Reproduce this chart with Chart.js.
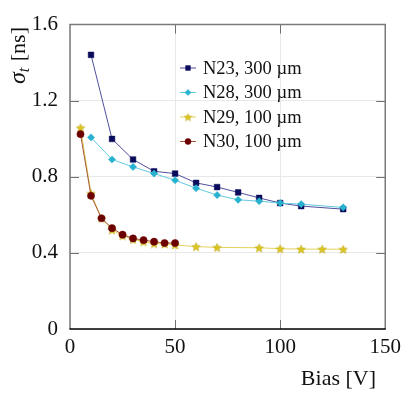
<!DOCTYPE html>
<html>
<head>
<meta charset="utf-8">
<script src="https://cdn.jsdelivr.net/npm/chart.js@4"></script>
<style>
  html, body { margin: 0; padding: 0; background: #fff; }
  #wrap { width: 407px; height: 393px; }
</style>
</head>
<body>
<div id="wrap"><canvas id="chart" width="407" height="393"></canvas></div>
<script>
// values
const biasN23 = [10, 20, 30, 40, 50, 60, 70, 80, 90, 100, 110, 130];
const sigmaN23 = [1.441, 0.999, 0.891, 0.829, 0.817, 0.768, 0.746, 0.718, 0.689, 0.662, 0.646, 0.630];
const biasN28 = [10, 20, 30, 40, 50, 60, 70, 80, 90, 100, 110, 130];
const sigmaN28 = [1.007, 0.891, 0.852, 0.817, 0.782, 0.740, 0.704, 0.679, 0.672, 0.662, 0.656, 0.639];
const biasN29 = [5, 10, 15, 20, 25, 30, 35, 40, 45, 50, 60, 70, 90, 100, 110, 120, 130];
const sigmaN29 = [1.058, 0.713, 0.582, 0.521, 0.491, 0.471, 0.459, 0.449, 0.447, 0.442, 0.433, 0.429, 0.427, 0.422, 0.420, 0.420, 0.419];
const biasN30 = [5, 10, 15, 20, 25, 30, 35, 40, 45, 50];
const sigmaN30 = [1.024, 0.700, 0.582, 0.530, 0.496, 0.476, 0.467, 0.459, 0.452, 0.452];
const seriesLabels = ['N23, 300 µm', 'N28, 300 µm', 'N29, 100 µm', 'N30, 100 µm'];
const xTicks = [0, 50, 100, 150];
const yTicks = [0, 0.4, 0.8, 1.2, 1.6];

const SERIF = '"Liberation Serif", "DejaVu Serif", serif';

// filled five-point star used as a marker
function makeStar(size, fill, stroke) {
  const c = document.createElement('canvas');
  c.width = size; c.height = size;
  const g = c.getContext('2d');
  const m = size / 2;
  g.beginPath();
  for (let i = 0; i < 10; i++) {
    const r = i % 2 === 0 ? m - 0.5 : (m - 0.5) * 0.45;
    const a = -Math.PI / 2 + i * Math.PI / 5;
    g.lineTo(m + r * Math.cos(a), m + 0.5 + r * Math.sin(a));
  }
  g.closePath();
  g.fillStyle = fill;
  g.fill();
  g.strokeStyle = stroke;
  g.lineWidth = 0.5;
  g.stroke();
  return c;
}
const starImg = makeStar(10, '#dcc61e', '#b8a214');
const starLegend = makeStar(9, '#dcc61e', '#b8a214');

function pts(xs, ys) {
  return xs.map((x, i) => ({ x: x, y: ys[i] }));
}

const datasets = [
  {
    label: seriesLabels[0], data: pts(biasN23, sigmaN23),
    borderColor: '#4f4f9c', backgroundColor: '#0b0b5c', pointBorderColor: '#0b0b5c',
    pointStyle: 'rect', pointRadius: 4, order: 3
  },
  {
    label: seriesLabels[1], data: pts(biasN28, sigmaN28),
    borderColor: '#62c9e0', backgroundColor: '#27b2d0', pointBorderColor: '#27b2d0',
    pointStyle: 'rectRot', pointRadius: 3.6, order: 2
  },
  {
    label: seriesLabels[2], data: pts(biasN29, sigmaN29),
    borderColor: '#e3d25a', backgroundColor: '#dcc61e', pointBorderColor: '#dcc61e',
    pointStyle: starImg, pointRadius: 5, order: 1
  },
  {
    label: seriesLabels[3], data: pts(biasN30, sigmaN30),
    borderColor: '#a4563a', backgroundColor: '#6c0000', pointBorderColor: '#6c0000',
    pointStyle: 'circle', pointRadius: 3.6, order: 0
  }
];
datasets.forEach(d => {
  d.showLine = true;
  d.borderWidth = 1;
  d.pointBorderWidth = 0.5;
  d.tension = 0;
});

// frame, inner tick marks, axis titles and legend (pgfplots look)
const decorPlugin = {
  id: 'decor',
  afterDatasetsDraw(chart) {
    const ctx = chart.ctx;
    const a = chart.chartArea;
    const xs = chart.scales.x, ys = chart.scales.y;
    ctx.save();

    // tick marks pointing inward
    ctx.strokeStyle = '#707070';
    ctx.lineWidth = 1;
    const tl = 9;
    xTicks.slice(1, -1).forEach(v => {
      const px = Math.round(xs.getPixelForValue(v)) + 0.5;
      ctx.beginPath();
      ctx.moveTo(px, a.bottom); ctx.lineTo(px, a.bottom - tl);
      ctx.moveTo(px, a.top); ctx.lineTo(px, a.top + tl);
      ctx.stroke();
    });
    yTicks.slice(1, -1).forEach(v => {
      const py = Math.round(ys.getPixelForValue(v)) + 0.5;
      ctx.beginPath();
      ctx.moveTo(a.left, py); ctx.lineTo(a.left + tl, py);
      ctx.moveTo(a.right, py); ctx.lineTo(a.right - tl, py);
      ctx.stroke();
    });

    // frame
    ctx.lineWidth = 1.5;
    ctx.strokeStyle = '#7a7a7a';
    ctx.beginPath();
    ctx.moveTo(a.left, a.bottom); ctx.lineTo(a.left, a.top);
    ctx.lineTo(a.right, a.top); ctx.lineTo(a.right, a.bottom);
    ctx.stroke();
    ctx.strokeStyle = '#000';
    ctx.beginPath();
    ctx.moveTo(a.left - 0.5, a.bottom); ctx.lineTo(a.right + 0.5, a.bottom);
    ctx.stroke();

    // legend
    const lx = 180, ly = 68, step = 24.5;
    chart.data.datasets.forEach((d, i) => {
      const y = ly + i * step;
      ctx.strokeStyle = d.borderColor;
      ctx.lineWidth = 1;
      ctx.beginPath();
      ctx.moveTo(lx, y); ctx.lineTo(lx + 16, y);
      ctx.stroke();
      ctx.fillStyle = d.backgroundColor;
      ctx.strokeStyle = d.pointBorderColor;
      ctx.lineWidth = 0.5;
      Chart.helpers.drawPoint(ctx, {
        pointStyle: d.pointStyle === starImg ? starLegend : d.pointStyle,
        radius: d.pointRadius * 0.85, rotation: 0, borderWidth: 0.5
      }, lx + 8, y);
      ctx.fillStyle = '#111';
      ctx.font = '18.5px ' + SERIF;
      ctx.textAlign = 'left';
      ctx.textBaseline = 'middle';
      ctx.fillText(d.label, lx + 23, y + 1);
    });

    // x title
    ctx.fillStyle = '#111';
    ctx.font = '22px ' + SERIF;
    ctx.textAlign = 'right';
    ctx.textBaseline = 'alphabetic';
    ctx.fillText('Bias [V]', 376, 385);

    // y title: sigma_t [ns], rotated
    ctx.translate(25, 84);
    ctx.rotate(-Math.PI / 2);
    ctx.textAlign = 'left';
    ctx.font = 'italic 24px ' + SERIF;
    ctx.fillText('σ', 0, 0);
    let w = ctx.measureText('σ').width;
    ctx.font = 'italic 16px ' + SERIF;
    ctx.fillText('t', w, 4);
    w += ctx.measureText('t').width;
    ctx.font = '22px ' + SERIF;
    ctx.fillText(' [ns]', w + 1, 0);
    ctx.restore();
  }
};

new Chart(document.getElementById('chart'), {
  type: 'scatter',
  data: { datasets: datasets },
  options: {
    responsive: false,
    animation: false,
    layout: { padding: { left: 0, right: 20, top: 12, bottom: 0 } },
    scales: {
      x: {
        type: 'linear', min: 0, max: 150,
        afterBuildTicks: s => { s.ticks = xTicks.map(v => ({ value: v })); },
        afterFit: s => { s.height = 64; },
        grid: { color: '#e8e8e8', drawTicks: false, lineWidth: 1 },
        border: { display: false },
        ticks: {
          padding: 6, color: '#111',
          font: { family: SERIF, size: 21 },
          callback: v => String(v)
        }
      },
      y: {
        type: 'linear', min: 0, max: 1.6,
        afterBuildTicks: s => { s.ticks = yTicks.map(v => ({ value: v })); },
        afterFit: s => { s.width = 70; },
        grid: { color: '#e8e8e8', drawTicks: false, lineWidth: 1 },
        border: { display: false },
        ticks: {
          padding: 12, color: '#111',
          font: { family: SERIF, size: 21 },
          callback: v => String(v)
        }
      }
    },
    plugins: {
      legend: { display: false },
      tooltip: { enabled: false }
    }
  },
  plugins: [decorPlugin]
});
</script>
</body>
</html>
